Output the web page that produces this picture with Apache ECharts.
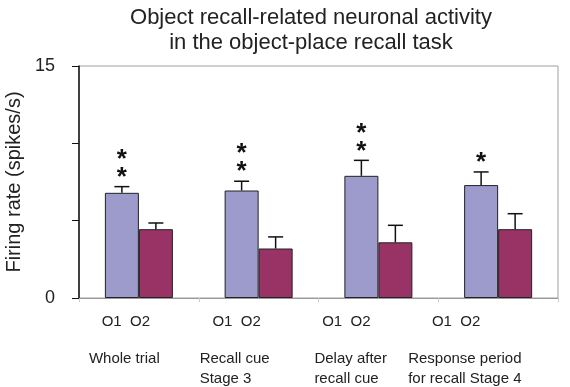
<!DOCTYPE html>
<html>
<head>
<meta charset="utf-8">
<script src="https://cdn.jsdelivr.net/npm/echarts@6/dist/echarts.min.js"></script>
<style>
  html, body { margin: 0; padding: 0; background: #fff; }
  #chart { width: 570px; height: 387px; }
</style>
</head>
<body>
<div id="chart"></div>
<script>
    // values
    var groups = ['Whole trial', 'Recall cue\nStage 3', 'Delay after\nrecall cue', 'Response period\nfor recall Stage 4'];
    var o1Mean = [6.8, 6.95, 7.9, 7.3];
    var o1Top = [7.2, 7.55, 8.9, 8.15];
    var o2Mean = [4.45, 3.2, 3.6, 4.45];
    var o2Top = [4.85, 3.95, 4.7, 5.45];
    var stars = [2, 2, 2, 1];
    var yLabels = [0, 15];

    var font = "'Liberation Sans', Arial, sans-serif";
    var barW = 34;
    // label shifts (px) from each category centre
    var pairShift = [-13, -22, -32, -42];
    var nameShift = [-50, -59, -64, -90];

    var chart = echarts.init(document.getElementById('chart'));

    function errData(mean, top, side) {
        return mean.map(function (m, i) { return [i, m, top[i], side]; });
    }

    function renderErr(params, api) {
        var c = api.coord([api.value(0), api.value(1)]);
        var t = api.coord([api.value(0), api.value(2)]);
        var x = c[0] + api.value(3) * barW / 2;
        var st = { stroke: '#111', lineWidth: 1.5 };
        return {
            type: 'group',
            children: [
                { type: 'line', shape: { x1: x, y1: c[1], x2: x, y2: t[1] }, style: st },
                { type: 'line', shape: { x1: x - 7.5, y1: t[1], x2: x + 7.5, y2: t[1] }, style: st }
            ]
        };
    }

    function renderStars(params, api) {
        var t = api.coord([api.value(0), api.value(1)]);
        var x = t[0] - barW / 2;
        var n = stars[params.dataIndex];
        var kids = [];
        for (var k = 0; k < n; k++) {
            kids.push({
                type: 'text',
                x: x, y: t[1] - 9 - 18 * k,
                style: { text: '*', fontSize: 26, fontWeight: 'bold', fontFamily: font, fill: '#111',
                         textAlign: 'center', textVerticalAlign: 'middle' }
            });
        }
        return { type: 'group', children: kids };
    }

    var option = {
        animation: false,
        title: {
            text: 'Object recall-related neuronal activity\nin the object-place recall task',
            left: 306, top: 0, textAlign: 'center',
            textStyle: { fontSize: 22, fontWeight: 'normal', color: '#222', fontFamily: font, lineHeight: 25 }
        },
        grid: {
            left: 79, right: 12, top: 66, bottom: 89, outerBoundsMode: 'none',
            show: true, borderColor: '#a0a0a0', borderWidth: 1
        },
        xAxis: {
            type: 'category',
            data: groups,
            axisLine: { lineStyle: { color: '#999', width: 1 } },
            axisTick: { show: true, length: 4, lineStyle: { color: '#ccc' } },
            axisLabel: { show: false }
        },
        yAxis: {
            type: 'value',
            min: 0, max: 15, interval: 5,
            name: 'Firing rate (spikes/s)',
            nameLocation: 'middle', nameGap: 54, nameRotate: 90,
            nameTextStyle: { fontSize: 20, color: '#222', fontFamily: font },
            axisLine: { show: true, lineStyle: { color: '#111', width: 1.5 } },
            axisTick: { show: true, length: 7, lineStyle: { color: '#111' } },
            axisLabel: {
                margin: 24, fontSize: 18, color: '#222', fontFamily: font,
                formatter: function (v) { return yLabels.indexOf(v) >= 0 ? String(v) : ''; }
            },
            splitLine: { show: false }
        },
        series: [
            {
                name: 'O1', type: 'bar', data: o1Mean, barWidth: barW, barGap: 0,
                itemStyle: { color: '#9d9bcc', borderColor: '#222', borderWidth: 1 }
            },
            {
                name: 'O2', type: 'bar', data: o2Mean, barWidth: barW,
                itemStyle: { color: '#993366', borderColor: '#222', borderWidth: 1 }
            },
            { type: 'custom', renderItem: renderErr, data: errData(o1Mean, o1Top, -1), z: 5 },
            { type: 'custom', renderItem: renderErr, data: errData(o2Mean, o2Top, 1), z: 5 },
            {
                type: 'custom', renderItem: renderStars, z: 6,
                data: o1Top.map(function (v, i) { return [i, v]; })
            }
        ]
    };
    chart.setOption(option);

    // category texts under the axis
    var labels = [];
    groups.forEach(function (g, i) {
        var p = chart.convertToPixel({ xAxisIndex: 0 }, i);
        labels.push({
            type: 'text', x: p + pairShift[i], y: 322,
            style: { text: 'O1  O2', fontSize: 15, fontFamily: font, fill: '#222',
                     textAlign: 'center', textVerticalAlign: 'middle' }
        });
        labels.push({
            type: 'text', x: p + nameShift[i], y: 349,
            style: { text: g, fontSize: 15, lineHeight: 20, fontFamily: font, fill: '#222',
                     textAlign: 'left', textVerticalAlign: 'top' }
        });
    });
    chart.setOption({ graphic: labels });
</script>
</body>
</html>
